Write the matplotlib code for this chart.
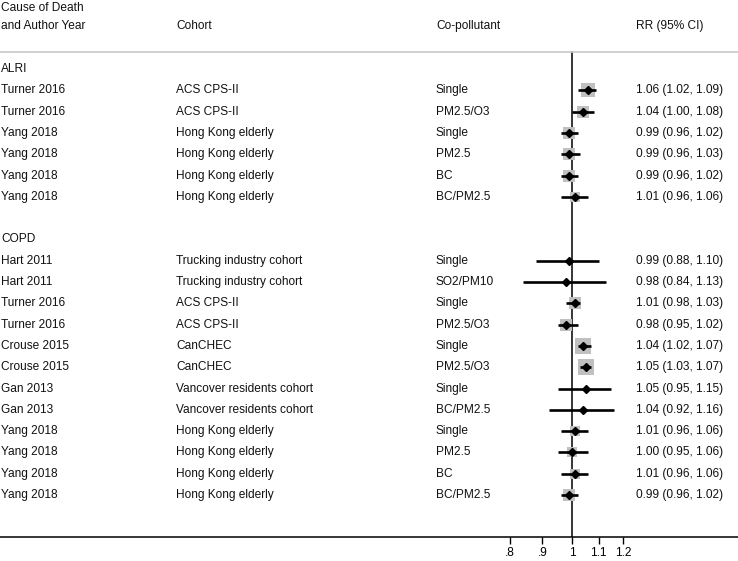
import numpy as np
import matplotlib.pyplot as plt
from matplotlib.transforms import blended_transform_factory

plt.rcParams['font.family'] = ['Liberation Sans', 'DejaVu Sans']

# ALRI studies
alri_author = ["Turner 2016", "Turner 2016", "Yang 2018", "Yang 2018", "Yang 2018", "Yang 2018"]
alri_cohort = ["ACS CPS-II", "ACS CPS-II", "Hong Kong elderly", "Hong Kong elderly",
               "Hong Kong elderly", "Hong Kong elderly"]
alri_copoll = ["Single", "PM2.5/O3", "Single", "PM2.5", "BC", "BC/PM2.5"]
alri_rr = [1.06, 1.04, 0.99, 0.99, 0.99, 1.01]
alri_lo = [1.02, 1.00, 0.96, 0.96, 0.96, 0.96]
alri_hi = [1.09, 1.08, 1.02, 1.03, 1.02, 1.06]
alri_weight = [90, 64, 64, 64, 64, 40]

# COPD studies
copd_author = ["Hart 2011", "Hart 2011", "Turner 2016", "Turner 2016", "Crouse 2015", "Crouse 2015",
               "Gan 2013", "Gan 2013", "Yang 2018", "Yang 2018", "Yang 2018", "Yang 2018"]
copd_cohort = ["Trucking industry cohort", "Trucking industry cohort", "ACS CPS-II", "ACS CPS-II",
               "CanCHEC", "CanCHEC", "Vancover residents cohort", "Vancover residents cohort",
               "Hong Kong elderly", "Hong Kong elderly", "Hong Kong elderly", "Hong Kong elderly"]
copd_copoll = ["Single", "SO2/PM10", "Single", "PM2.5/O3", "Single", "PM2.5/O3",
               "Single", "BC/PM2.5", "Single", "PM2.5", "BC", "BC/PM2.5"]
copd_rr = [0.99, 0.98, 1.01, 0.98, 1.04, 1.05, 1.05, 1.04, 1.01, 1.00, 1.01, 0.99]
copd_lo = [0.88, 0.84, 0.98, 0.95, 1.02, 1.03, 0.95, 0.92, 0.96, 0.95, 0.96, 0.96]
copd_hi = [1.10, 1.13, 1.03, 1.02, 1.07, 1.07, 1.15, 1.16, 1.06, 1.06, 1.06, 1.02]
copd_weight = [3, 3, 64, 64, 110, 110, 6, 6, 45, 45, 45, 64]

groups = [("ALRI", alri_author, alri_cohort, alri_copoll, alri_rr, alri_lo, alri_hi, alri_weight),
          ("COPD", copd_author, copd_cohort, copd_copoll, copd_rr, copd_lo, copd_hi, copd_weight)]

fig = plt.figure(figsize=(7.38, 5.61), dpi=100)
ax = fig.add_axes([0, 24 / 561, 1, 537 / 561])
ax.set_xscale('log')
ax.set_xlim(0.1297, 1.809)
ax.set_ylim(21.97, -3.24)

tr = blended_transform_factory(ax.transAxes, ax.transData)
col_x = [1 / 738, 176 / 738, 436 / 738, 636 / 738]
fs = 8.6
tc = '#111111'

# header
ax.text(col_x[0], -2.86, "Cause of Death", transform=tr, fontsize=fs, va='center', color=tc)
ax.text(col_x[0], -2.02, "and Author Year", transform=tr, fontsize=fs, va='center', color=tc)
ax.text(col_x[1], -2.02, "Cohort", transform=tr, fontsize=fs, va='center', color=tc)
ax.text(col_x[2], -2.02, "Co-pollutant", transform=tr, fontsize=fs, va='center', color=tc)
ax.text(col_x[3], -2.02, "RR (95% CI)", transform=tr, fontsize=fs, va='center', color=tc)
ax.plot([0, 1], [-0.8, -0.8], transform=tr, color='#c8c8c8', lw=1.2, clip_on=False)

row = 0
for name, author, cohort, copoll, rr, lo, hi, w in groups:
    ax.text(col_x[0], row, name, transform=tr, fontsize=fs, va='center', color=tc)
    row += 1
    for i in range(len(rr)):
        ax.text(col_x[0], row, author[i], transform=tr, fontsize=fs, va='center', color=tc)
        ax.text(col_x[1], row, cohort[i], transform=tr, fontsize=fs, va='center', color=tc)
        ax.text(col_x[2], row, copoll[i], transform=tr, fontsize=fs, va='center', color=tc)
        ax.text(col_x[3], row, f"{rr[i]:.2f} ({lo[i]:.2f}, {hi[i]:.2f})",
                transform=tr, fontsize=fs, va='center', color=tc)
        side = np.sqrt(w[i]) * 1.5 * 0.72
        ax.scatter(rr[i], row, marker='s', s=side ** 2, color='#c0c0c0', lw=0, zorder=2)
        ax.plot([lo[i], hi[i]], [row, row], color='black', lw=1.9, solid_capstyle='butt', zorder=3)
        ax.plot(rr[i], row, marker='D', color='black', ms=4.5, zorder=4)
        row += 1
    row += 1

# null line
ax.plot([1, 1], [-0.8, 21.97], color='black', lw=1.1, zorder=1)

for s in ['top', 'left', 'right']:
    ax.spines[s].set_visible(False)
ax.spines['bottom'].set_linewidth(1.1)
ax.set_yticks([])
ax.set_xticks([0.8, 0.9, 1, 1.1, 1.2])
ax.set_xticklabels(['.8', '.9', '1', '1.1', '1.2'], fontsize=fs)
ax.minorticks_off()
ax.tick_params(axis='x', length=5, width=1, pad=2.5)

fig.savefig("out.png", dpi=100)
